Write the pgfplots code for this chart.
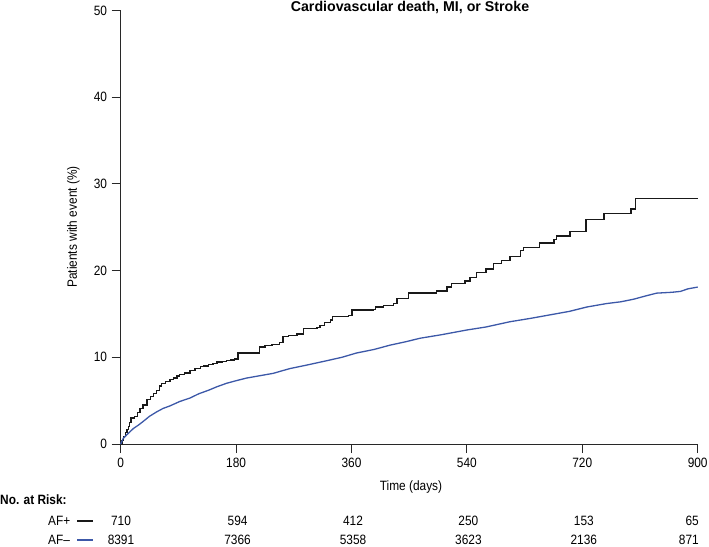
\documentclass[border=0pt]{standalone}
\usepackage{fontspec}
\setmainfont{Liberation Sans}[FakeStretch=0.88]
\newfontfamily\titlefont{Liberation Sans}
\usepackage{pgfplots}
\pgfplotsset{compat=1.18}
\definecolor{afminus}{RGB}{60,88,168}
\definecolor{axisgray}{RGB}{40,40,40}
\begin{document}
\fontsize{13.5}{15}\selectfont
\begin{tikzpicture}[x=1pt,y=1pt]
\useasboundingbox (0,0) rectangle (709,546);
\begin{axis}[
  at={(120.7pt,102pt)}, anchor=south west,
  scale only axis, width=577pt, height=433.5pt,
  xmin=0, xmax=900, ymin=0, ymax=50,
  axis x line*=bottom, axis y line*=left,
  xtick={0,180,360,540,720,900}, ytick={0,10,20,30,40,50},
  tick align=outside, major tick length=9pt,
  tick style={line width=0.9pt, color=axisgray},
  axis line style={line width=0.9pt, color=axisgray},
  ticklabel style={font=\fontsize{13.5}{15}\selectfont},
  /pgf/number format/assume math mode=true,
  scaled ticks=false,
  clip=false,
]
\addplot[const plot, line width=1.3pt, black!90] coordinates {
(0,0) (2,0.4) (4,0.85) (7,1.3) (10,1.7) (12,2.0) (14,2.5) (16,3.0) (22,3.2)
(26,3.6) (30,4.1) (35,4.5) (41,5.1) (46,5.5) (51,5.85) (56,6.2) (61,6.7)
(64,7.0) (70,7.2) (77,7.4) (82,7.6) (88,7.85) (92,8.0) (100,8.2) (108,8.45)
(116,8.7) (124,8.9) (130,9.0) (137,9.2) (144,9.3) (150,9.45) (158,9.55)
(165,9.6) (172,9.7) (178,9.8) (183,10.5) (217,11.2) (225,11.4) (236,11.5)
(248,11.7) (253,12.4) (262,12.5) (275,12.7) (285,13.3) (306,13.4) (311,13.7)
(318,14.0) (327,14.3) (330,14.7) (355,14.8) (361,15.45) (394,15.5) (397,15.8)
(410,16.0) (425,16.2) (431,16.8) (449,17.4) (493,17.65) (509,18.1) (516,18.5)
(537,18.8) (545,19.2) (555,19.8) (570,20.2) (581,20.8) (594,21.2) (607,21.6)
(624,22.3) (628,22.7) (653,23.2) (676,23.6) (680,24.0) (701,24.5) (726,25.9)
(754,26.6) (796,27.1) (803,28.3) (900,28.3)
};
\addplot[sharp plot, line width=1.3pt, afminus] coordinates {
(0,0) (4,0.65) (10,1.1) (20,1.8) (28,2.2) (35,2.6) (45,3.2) (56,3.7) (66,4.1)
(77,4.4) (92,4.9) (108,5.3) (122,5.8) (137,6.2) (150,6.6) (165,7.0) (180,7.3)
(196,7.6) (215,7.85) (238,8.15) (252,8.45) (264,8.7) (290,9.1) (321,9.6)
(345,10.0) (368,10.5) (395,10.9) (420,11.4) (445,11.8) (467,12.2) (500,12.6)
(540,13.15) (570,13.5) (607,14.1) (640,14.5) (670,14.9) (700,15.3) (727,15.8)
(758,16.2) (780,16.4) (800,16.7) (820,17.1) (836,17.4) (860,17.5) (873,17.6)
(885,17.9) (900,18.1)
};
\end{axis}
% titles and labels
\node[font=\titlefont\fontsize{14.2}{16}\selectfont\bfseries] at (410,539) {Cardiovascular death, MI, or Stroke};
\node at (411,59) {Time (days)};
\node[rotate=90] at (73.3,319) {Patients with event (\%)};
% number at risk
\node[anchor=west, inner sep=0pt, font=\fontsize{13.5}{15}\selectfont\bfseries] at (0,46) {No. at Risk:};
\node[anchor=west, inner sep=0pt] at (48,25) {AF+};
\node[anchor=west, inner sep=0pt] at (48,6) {AF–};
\draw[line width=1.3pt, black!90] (77,25) -- (93,25);
\draw[line width=1.3pt, afminus] (77,6) -- (93,6);
\foreach \xx/\a/\b in {121/710/8391, 237.6/594/7366, 353/412/5358, 468.4/250/3623, 583.8/153/2136} {
  \node at (\xx,25) {\a};
  \node at (\xx,6) {\b};
}
\node[anchor=east, inner sep=0pt] at (699,25) {65};
\node[anchor=east, inner sep=0pt] at (699,6) {871};
\end{tikzpicture}
\end{document}
